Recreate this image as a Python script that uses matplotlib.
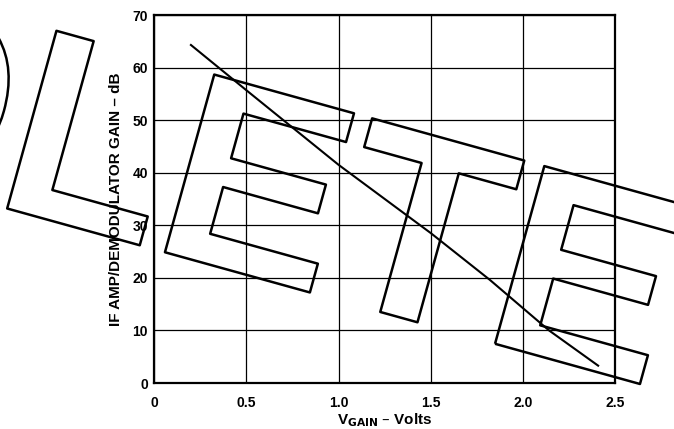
import matplotlib
matplotlib.use("Agg")
import matplotlib.pyplot as plt
import matplotlib.patheffects as pe

# Data
v_gain = [0.20, 0.50, 1.00, 1.50, 1.82, 2.14, 2.406]
gain_db = [64.3, 55.7, 41.5, 28.5, 19.6, 10.0, 3.3]
x_ticks = [0, 0.5, 1.0, 1.5, 2.0, 2.5]
x_tick_labels = ["0", "0.5", "1.0", "1.5", "2.0", "2.5"]
y_ticks = [0, 10, 20, 30, 40, 50, 60, 70]
y_tick_labels = ["0", "10", "20", "30", "40", "50", "60", "70"]
watermark = "OBSOLETE"

plt.rcParams['font.family'] = ['Liberation Sans', 'DejaVu Sans']
plt.rcParams['font.weight'] = 'bold'

fig = plt.figure(figsize=(6.74, 4.29), dpi=100)
ax = fig.add_axes([0.2285, 0.1072, 0.9132 - 0.2285, 0.965 - 0.1072])

ax.plot(v_gain, gain_db, color='black', lw=1.5, zorder=3)
ax.set_xlim(0, 2.5)
ax.set_ylim(0, 70)
ax.set_xticks(x_ticks)
ax.set_xticklabels(x_tick_labels, fontsize=10, fontweight='bold')
ax.set_yticks(y_ticks)
ax.set_yticklabels(y_tick_labels, fontsize=10, fontweight='bold')
ax.tick_params(length=0)
ax.tick_params(axis='x', pad=9)
ax.tick_params(axis='y', pad=4.5)
ax.grid(True, color='black', lw=0.9)
for s in ax.spines.values():
    s.set_linewidth(1.6)

ax.set_xlabel(r"V$_{\mathbf{GAIN}}$ – Volts", fontsize=11, fontweight='bold', labelpad=1)
ax.set_ylabel("IF AMP/DEMODULATOR GAIN – dB", fontsize=11, fontweight='bold', labelpad=7)

t = fig.text(0.964, 0.0986, watermark, fontsize=193, fontweight='bold',
             family=['Liberation Sans', 'DejaVu Sans'],
             rotation=-15.5, rotation_mode='anchor', ha='right', va='baseline',
             color='none', zorder=10)
t.set_path_effects([pe.Stroke(linewidth=1.8, foreground='black')])

fig.savefig("out.png", dpi=100)
